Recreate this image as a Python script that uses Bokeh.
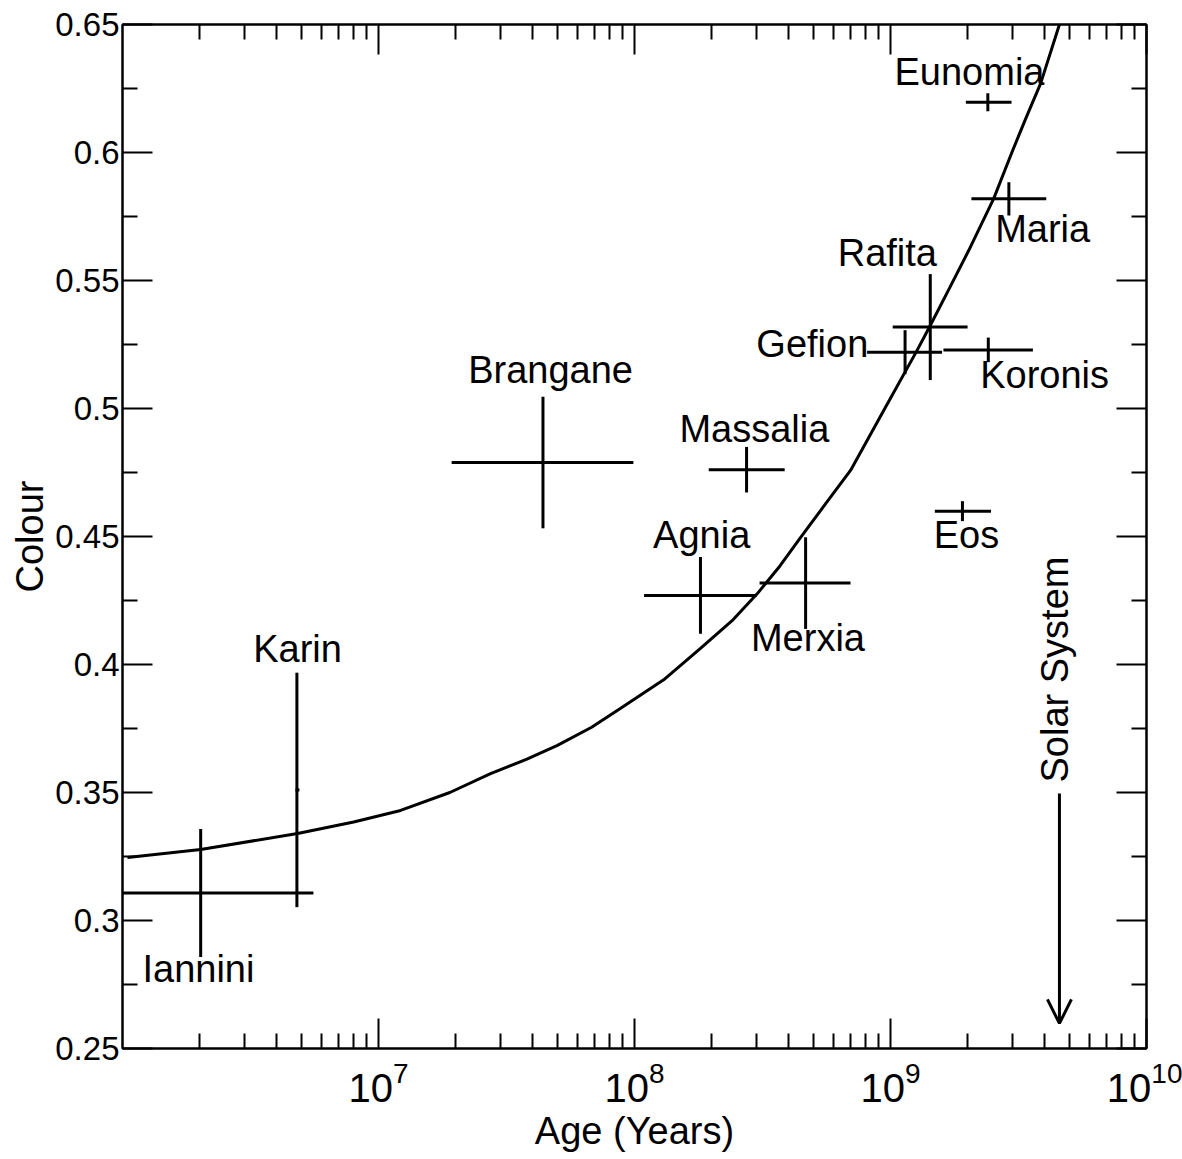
import math
from bokeh.plotting import figure
from bokeh.models import (ColumnDataSource, Range1d, FixedTicker, LogAxis, LinearAxis,
                          LogTickFormatter, CustomJSTickFormatter, Arrow, OpenHead)
from bokeh.core.properties import value
from bokeh.embed import file_html
from bokeh.resources import INLINE

# ---------------- data ----------------
families = ["Eunomia", "Maria", "Rafita", "Gefion", "Koronis", "Eos",
            "Brangane", "Massalia", "Agnia", "Merxia", "Karin", "Iannini"]
age = [2.40e9, 2.90e9, 1.43e9, 1.14e9, 2.41e9, 1.91e9,
       4.39e7, 2.74e8, 1.81e8, 4.66e8, 4.80e6, 2.02e6]
age_lo = [1.97e9, 2.07e9, 1.02e9, 8.1e8, 1.61e9, 1.49e9,
          1.93e7, 1.95e8, 1.09e8, 3.08e8, 4.74e6, 7.3e5]
age_hi = [2.97e9, 4.06e9, 2.00e9, 1.59e9, 3.60e9, 2.47e9,
          9.9e7, 3.86e8, 3.00e8, 6.98e8, 4.91e6, 5.57e6]
colour = [0.6196, 0.5819, 0.5318, 0.5220, 0.5229, 0.4599,
          0.4789, 0.4761, 0.4270, 0.4318, 0.3510, 0.3107]
colour_err = [0.0035, 0.0065, 0.0207, 0.0086, 0.0048, 0.0039,
              0.0257, 0.0089, 0.0150, 0.0179, 0.0458, 0.0250]

# label anchor points (data coordinates, baseline-centre of each name)
label_age = [2.035e9, 3.93e9, 9.72e8, 4.95e8, 4.0e9, 1.98e9,
             4.7e7, 2.94e8, 1.83e8, 4.76e8, 4.83e6, 1.98e6]
label_colour = [0.6258, 0.5648, 0.5551, 0.5199, 0.5078, 0.4453,
                0.5094, 0.4867, 0.4453, 0.4047, 0.4004, 0.2754]

# weathering curve, points
curve_age = [1.046e6, 2.02e6, 4.83e6, 8.0e6, 1.22e7, 1.9e7, 2.74e7, 3.8e7, 5.0e7,
             6.8e7, 8.8e7, 1.3e8, 1.81e8, 2.4e8, 3.02e8, 3.7e8, 4.45e8, 5.6e8,
             6.98e8, 9.5e8, 1.27e9, 1.43e9, 1.7e9, 2.02e9, 2.53e9, 3.0e9,
             3.4e9, 3.86e9, 4.57e9]
curve_colour = [0.3246, 0.3277, 0.3340, 0.3385, 0.3430, 0.3500, 0.3574, 0.3630, 0.3684,
                0.3755, 0.3828, 0.3940, 0.4063, 0.4170, 0.4277, 0.4385, 0.4496, 0.4630,
                0.4758, 0.5000, 0.5227, 0.5324, 0.5470, 0.5617, 0.5820, 0.6008,
                0.6140, 0.6270, 0.6500]

solar_system_age = 4.57e9
arrow_colour_start = 0.3496
arrow_colour_end = 0.2598
solar_label_age = 5.0e9
solar_label_colour = 0.3539

x_major = [1e7, 1e8, 1e9, 1e10]
x_minor = [m * 10 ** e for e in range(6, 10) for m in range(2, 10)]
y_major = [0.25, 0.3, 0.35, 0.4, 0.45, 0.5, 0.55, 0.6, 0.65]
y_minor = [0.275, 0.325, 0.375, 0.425, 0.475, 0.525, 0.575, 0.625]

FONT = "Liberation Sans"
TXT_SHIFT = 14  # compensation for the renderer's baseline placement

# ---------------- figure ----------------
p = figure(x_axis_type="log", x_range=Range1d(1e6, 1e10), y_range=Range1d(0.25, 0.65),
           width=1182, height=1159,
           min_border_left=122, min_border_right=36, min_border_top=24, min_border_bottom=111,
           output_backend="svg", toolbar_location=None,
           x_axis_label="Age (Years)", y_axis_label="Colour")
p.background_fill_color = "white"
p.border_fill_color = "white"
p.outline_line_color = "black"
p.outline_line_width = 2
p.xgrid.visible = False
p.ygrid.visible = False

xt = FixedTicker(ticks=x_major, minor_ticks=x_minor)
yt = FixedTicker(ticks=y_major, minor_ticks=y_minor)
yfmt = CustomJSTickFormatter(code="return String(Number(tick.toFixed(3)));")


def style_axis(ax, labels=True):
    ax.axis_line_color = "black"
    ax.axis_line_width = 2
    ax.major_tick_in = 30
    ax.major_tick_out = 0
    ax.minor_tick_in = 15
    ax.minor_tick_out = 0
    ax.major_tick_line_width = 2
    ax.minor_tick_line_width = 2
    ax.major_tick_line_color = "black"
    ax.minor_tick_line_color = "black"
    ax.major_label_text_font = FONT
    ax.major_label_text_color = "black"
    ax.axis_label_text_font = FONT
    ax.axis_label_text_font_style = "normal"
    ax.axis_label_text_font_size = "38px"
    ax.axis_label_text_color = "black"
    if not labels:
        ax.major_label_text_font_size = "1px"
        ax.major_label_text_color = None
        ax.major_label_standoff = 0


bx = p.xaxis[0]
bx.ticker = xt
bx.formatter = LogTickFormatter()
style_axis(bx)
bx.major_label_text_font_size = "40px"
bx.major_label_standoff = 12
bx.axis_label_standoff = 5

ly = p.yaxis[0]
ly.ticker = yt
ly.formatter = yfmt
style_axis(ly)
ly.major_label_text_font_size = "33px"
ly.major_label_standoff = 3
ly.axis_label_standoff = 1

tx = LogAxis(ticker=xt, formatter=LogTickFormatter())
style_axis(tx, labels=False)
p.add_layout(tx, "above")
ry = LinearAxis(ticker=yt, formatter=yfmt)
style_axis(ry, labels=False)
p.add_layout(ry, "right")

# curve
p.line(curve_age, curve_colour, line_color="black", line_width=3)

# error-bar crosses
src = ColumnDataSource(dict(
    age=age, age_lo=age_lo, age_hi=age_hi, colour=colour,
    c_lo=[c - e for c, e in zip(colour, colour_err)],
    c_hi=[c + e for c, e in zip(colour, colour_err)],
))
p.segment(x0="age_lo", x1="age_hi", y0="colour", y1="colour", source=src,
          line_color="black", line_width=3)
p.segment(x0="age", x1="age", y0="c_lo", y1="c_hi", source=src,
          line_color="black", line_width=3)

# family names
p.text(x=label_age, y=label_colour, text=families, text_align="center",
       text_baseline="alphabetic", text_font=value(FONT), text_font_size="38px",
       text_color="black", y_offset=-TXT_SHIFT)

# Solar System arrow
p.add_layout(Arrow(x_start=solar_system_age, y_start=arrow_colour_start,
                   x_end=solar_system_age, y_end=arrow_colour_end,
                   line_color="black", line_width=3,
                   end=OpenHead(size=24, line_width=3, line_color="black")))
p.text(x=[solar_label_age], y=[solar_label_colour], text=["Solar System"],
       angle=math.pi / 2, text_align="left", text_baseline="alphabetic",
       text_font=value(FONT), text_font_size="38px", text_color="black",
       x_offset=-TXT_SHIFT)

open("out.html", "w").write(file_html(p, INLINE))
